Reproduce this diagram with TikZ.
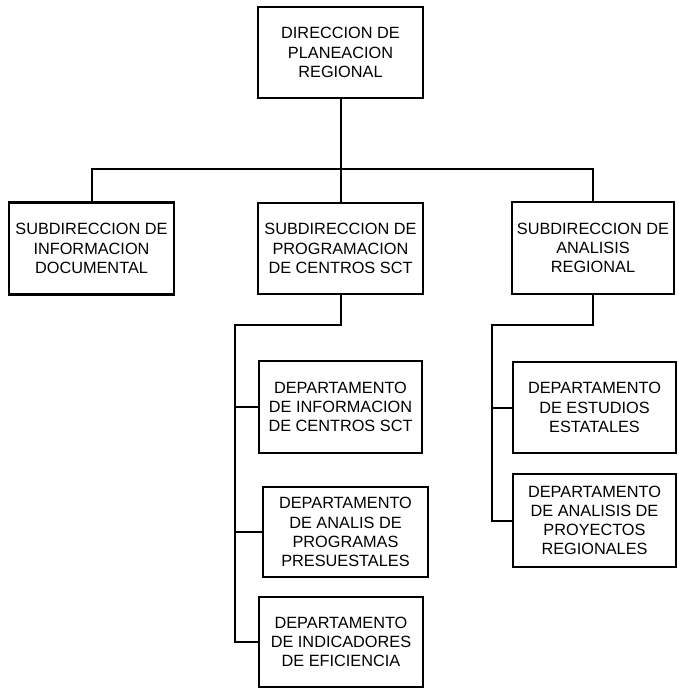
\documentclass[tikz,border=0pt]{standalone}
\usepackage{fontspec}
\setmainfont{Liberation Sans}
\usepackage{tikz}
\usetikzlibrary{positioning,calc}

\begin{document}
\begin{tikzpicture}[
        x=1pt, y=-1pt,
        orgbox/.style n args={2}{
            rectangle, draw=black, line width=2.2pt,
            fill=white,
            minimum width=#1,
            minimum height=#2,
            align=center,
            inner sep=2pt,
            font=\fontsize{16.3}{19.2}\selectfont
        },
        link/.style = {
            -, line width=2pt, line cap=rect
        }
    ]

        \useasboundingbox (0,0) rectangle (678,688);

        % direccion y subdirecciones
        \node[orgbox={165pt}{91pt}] (dir) at (340.5,52.5) {DIRECCION DE\\PLANEACION\\REGIONAL};
        \node[orgbox={165pt}{92pt}] (subinfo) at (91.5,248.5) {SUBDIRECCION DE\\INFORMACION\\DOCUMENTAL};
        \node[orgbox={165pt}{91pt}] (subprog) at (340.5,248.5) {SUBDIRECCION DE\\PROGRAMACION\\DE CENTROS SCT};
        \node[orgbox={162pt}{92pt}] (subanal) at (593,248) {SUBDIRECCION DE\\ANALISIS\\REGIONAL};

        % departamentos
        \node[orgbox={163pt}{92pt}] (depinfo) at (340.5,407) {DEPARTAMENTO\\DE INFORMACION\\DE CENTROS SCT};
        \node[orgbox={165pt}{90pt}] (deppres) at (345.5,532) {DEPARTAMENTO\\DE ANALIS DE\\PROGRAMAS\\PRESUESTALES};
        \node[orgbox={164pt}{90pt}] (depefic) at (341,642) {DEPARTAMENTO\\DE INDICADORES\\DE EFICIENCIA};
        \node[orgbox={163pt}{91pt}] (depest) at (594.5,407.5) {DEPARTAMENTO\\DE ESTUDIOS\\ESTATALES};
        \node[orgbox={163pt}{93pt}] (depproy) at (594.5,520.5) {DEPARTAMENTO\\DE ANALISIS DE\\PROYECTOS\\REGIONALES};

        \coordinate (hub) at (340.5,169);
        \coordinate (busprog) at (235,325);
        \coordinate (busanal) at (492,325);

        \draw[link] (dir.south) -- (hub);
        \draw[link] (subinfo.north) |- (hub) -| (subanal.north);
        \draw[link] (hub) -- (subprog.north);

        \draw[link] (subprog.south) |- (busprog) |- (depefic.west);
        \draw[link] (busprog) |- (depinfo.west);
        \draw[link] (busprog) |- (deppres.west);

        \draw[link] (subanal.south) |- (busanal) |- (depproy.west);
        \draw[link] (busanal) |- (depest.west);
    \end{tikzpicture}
\end{document}
